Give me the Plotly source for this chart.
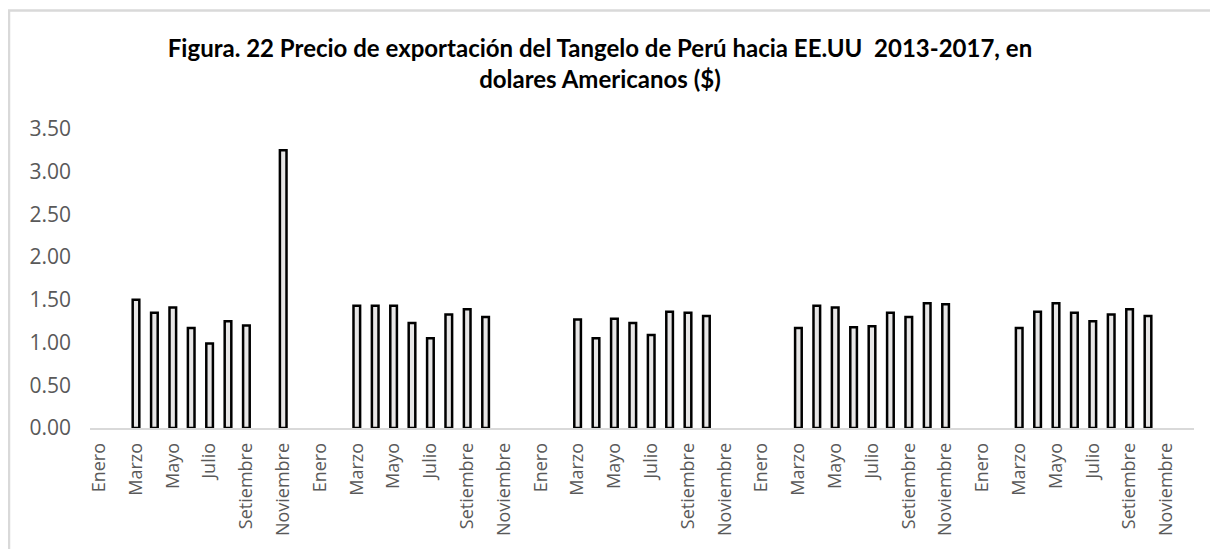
import plotly.graph_objects as go

months = ["Enero", "Febrero", "Marzo", "Abril", "Mayo", "Junio", "Julio",
          "Agosto", "Setiembre", "Octubre", "Noviembre", "Diciembre"]
years = ["2013", "2014", "2015", "2016", "2017"]

p2013 = [None, None, 1.50, 1.35, 1.41, 1.17, 0.99, 1.25, 1.20, None, 3.25, None]
p2014 = [None, None, 1.43, 1.43, 1.43, 1.23, 1.05, 1.33, 1.39, 1.30, None, None]
p2015 = [None, None, 1.27, 1.05, 1.28, 1.23, 1.09, 1.36, 1.35, 1.31, None, None]
p2016 = [None, None, 1.17, 1.43, 1.41, 1.18, 1.19, 1.35, 1.30, 1.46, 1.45, None]
p2017 = [None, None, 1.17, 1.36, 1.46, 1.35, 1.25, 1.33, 1.39, 1.31, None, None]

prices = p2013 + p2014 + p2015 + p2016 + p2017
labels = months * len(years)
x = list(range(len(prices)))

y_ticks = [0, 0.5, 1.0, 1.5, 2.0, 2.5, 3.0, 3.5]

fig = go.Figure(go.Bar(
    x=x, y=prices, width=0.36,
    marker=dict(color="#e7e6e6", line=dict(color="#000000", width=2.5)),
    customdata=labels, hovertemplate="%{customdata}: %{y:.2f}<extra></extra>",
))

# page has an 8px body margin, so the figure is sized/offset accordingly
W, H = 1210, 541
L, R, T, B = 82, 24, 121, 121
pw, ph = W - L - R, H - T - B

def px(xp):
    return (xp - L) / pw

def py(yp):
    return (H - B - yp) / ph

fig.update_layout(
    width=W, height=H,
    margin=dict(l=L, r=R, t=T, b=B, autoexpand=False),
    paper_bgcolor="white", plot_bgcolor="white",
    showlegend=False,
    title=dict(
        text="Figura. 22 Precio de exportación del Tangelo de Perú hacia EE.UU  2013-2017, en<br>dolares Americanos ($)",
        font=dict(family="Lato", size=24, color="#000000", weight="bold"),
        xref="container", yref="container", x=592 / W, y=1 - 49 / H,
        xanchor="center", yanchor="middle",
    ),
    xaxis=dict(
        range=[-0.5, len(prices) - 0.5],
        tickmode="array", tickvals=x[::2], ticktext=labels[::2],
        tickangle=-90, showgrid=False, zeroline=False,
        showline=True, linecolor="#d9d9d9", linewidth=1.5,
        ticks="", ticklabelstandoff=6,
        tickfont=dict(family="Open Sans", size=18, color="#595959"),
    ),
    yaxis=dict(
        range=[0, 3.5], tickmode="array", tickvals=y_ticks,
        tickformat=".2f", showgrid=False, zeroline=False, showline=False,
        ticks="", ticklabelstandoff=18,
        tickfont=dict(family="Open Sans", size=21, color="#595959"),
    ),
    shapes=[dict(
        type="path", xref="paper", yref="paper",
        path=f"M {px(1)} {py(H + 5)} L {px(1)} {py(2.5)} L {px(W + 5)} {py(2.5)}",
        line=dict(color="#d9d9d9", width=2.5),
    )],
)

fig.write_html("out.html")
